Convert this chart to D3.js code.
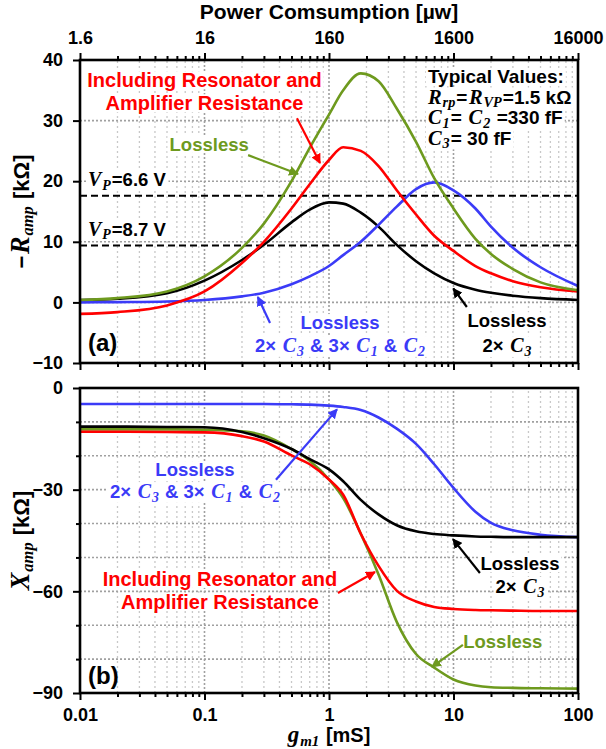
<!DOCTYPE html>
<html><head><meta charset="utf-8">
<script src="https://cdn.jsdelivr.net/npm/d3@7"></script>
<style>
body{margin:0;background:#fff}
text{font-family:"Liberation Sans",Arial,sans-serif;font-weight:bold;fill:#000}
.m{font-family:"Liberation Serif","DejaVu Serif",serif;font-style:italic}
</style></head><body><div id="c"></div>
<script>
// gm1 sample points [mS]
const gm = [0.01, 0.02, 0.05, 0.1, 0.2, 0.3, 0.5, 0.7, 1, 1.3, 1.8, 2.5, 3.5, 5, 7, 10, 15, 20, 30, 50, 100]

// (a) -R_amp [kOhm]
const rGreen = [0.4, 0.7, 1.8, 4.3, 9.0, 13, 20, 25.5, 31, 35, 37.8, 36.5, 32, 26.5, 20.5, 15.5, 10.5, 8, 5.5, 3.3, 2.0]
const rRed   = [-1.9, -1.6, -0.5, 1.8, 6.5, 10, 15.5, 19.5, 23.5, 25.6, 25, 22.5, 18.5, 14.5, 11, 8.5, 6, 4.8, 3.5, 2.5, 1.8]
const rBlack = [0.4, 0.6, 1.5, 3.6, 7, 9.5, 13.2, 15.3, 16.5, 16.3, 14.8, 12.5, 9.5, 6.8, 4.8, 3.2, 2.1, 1.6, 1.1, 0.7, 0.4]
const rBlue  = [0.0, 0.05, 0.15, 0.4, 1.0, 1.6, 3.0, 4.3, 6.0, 7.8, 10, 12.8, 15.8, 18.7, 19.8, 18.5, 15.5, 12.5, 9, 5.8, 2.7]
const vpLines = [17.6, 9.4]

// (b) X_amp [kOhm]
const xGreen = [-12.2, -12.2, -12.2, -12.3, -12.8, -14, -18, -21.5, -27, -32.5, -43, -55, -69, -78.5, -82.5, -86, -87.8, -88.3, -88.5, -88.6, -88.7]
const xRed   = [-12.9, -12.9, -13, -13.1, -14.2, -15.8, -19.9, -22.5, -27, -31.5, -43, -52.5, -59.8, -63, -64.6, -65.2, -65.5, -65.6, -65.7, -65.8, -65.8]
const xBlack = [-11.4, -11.4, -11.5, -11.6, -13, -14.8, -18, -21, -24, -27.5, -33, -37.3, -40.5, -42.3, -43.1, -43.5, -43.8, -43.9, -44, -44, -44]
const xBlue  = [-4.7, -4.7, -4.7, -4.7, -4.7, -4.7, -4.8, -4.9, -5.2, -5.6, -6.5, -8.7, -12, -16.5, -22.5, -29.5, -36.5, -39.8, -42, -43.3, -44]

const gmTicks = [0.01, 0.1, 1, 10, 100]
const powerTicks = [1.6, 16, 160, 1600, 16000]
const raTicks = [-10, 0, 10, 20, 30, 40]
const xaTicks = [-90, -60, -30, 0]

const col = {green: "#6e9a1e", red: "#ff0000", black: "#000", blue: "#3b3bf7"}

let W = 606, H = 749, L = 80, R = 578
let svg = d3.select("#c").append("svg").attr("width", W).attr("height", H)
let x = d3.scaleLog().domain([0.01, 100]).range([L, R])
let xp = d3.scaleLog().domain([1.6, 16000]).range([L, R])
let ya = d3.scaleLinear().domain([-10, 40]).range([363, 60])
let yb = d3.scaleLinear().domain([-90, 0]).range([693, 388])

let minorVals = []
gmTicks.slice(0, -1).forEach(d => { for (let k = 2; k < 10; k++) minorVals.push(d * k) })

let defs = svg.append("defs")
Object.entries(col).forEach(([k, c]) => {
    defs.append("marker").attr("id", "ah-" + k)
        .attr("viewBox", "0 0 10 10").attr("refX", 9).attr("refY", 5)
        .attr("markerWidth", 4.5).attr("markerHeight", 4.5).attr("orient", "auto")
        .append("path").attr("d", "M0,0L10,5L0,10Z").attr("fill", c)
})

// gridlines
let grid = (y, hvals) => {
    let g = svg.append("g")
    minorVals.forEach(v => {
        g.append("line").attr("x1", x(v)).attr("x2", x(v))
            .attr("y1", y.range()[0]).attr("y2", y.range()[1])
            .attr("stroke", "#c8c8c8").attr("stroke-width", 1.3).attr("stroke-dasharray", "2,3")
    })
    gmTicks.slice(1, -1).forEach(v => {
        g.append("line").attr("x1", x(v)).attr("x2", x(v))
            .attr("y1", y.range()[0]).attr("y2", y.range()[1])
            .attr("stroke", "#a0a0a0").attr("stroke-width", 1.6).attr("stroke-dasharray", "2,2")
    })
    hvals.forEach(v => {
        g.append("line").attr("x1", L).attr("x2", R).attr("y1", y(v)).attr("y2", y(v))
            .attr("stroke", "#a0a0a0").attr("stroke-width", 1.6).attr("stroke-dasharray", "2,2")
    })
}
grid(ya, [0, 10, 20, 30])
grid(yb, d3.range(-80, 0, 10))

// rich text with math italics and subscripts
let rich = (g, px, py, parts, size, fill, anchor, mf) => {
    let t = g.append("text").attr("x", px).attr("y", py)
        .attr("font-size", size).attr("text-anchor", anchor || "start").style("fill", fill || "#000")
    let sub = false
    parts.forEach(([k, s], i) => {
        let ts = t.append("tspan").text(s)
        if (k !== "n") ts.attr("class", "m")
        if (k === "i") {
            ts.attr("font-size", size * (mf || 1.08))
            if (i > 0) ts.attr("dx", 1.5)
        }
        if (k === "s") {
            ts.attr("font-size", size * 0.75).attr("dx", 1)
            if (!sub) ts.attr("dy", size * 0.2)
            sub = true
        } else if (sub) {
            ts.attr("dy", -size * 0.2).attr("dx", 1)
            sub = false
        }
    })
    return t
}
let boxed = (g, t) => {
    let b = t.node().getBBox()
    g.insert("rect", "text").attr("x", b.x - 2).attr("y", b.y + 2).attr("width", b.width + 4)
        .attr("height", b.height - 4).attr("fill", "#fff")
}

let notes = svg.append("g")
let note = (y, pos, lines, fill, anchor, lh, size) => {
    let g = notes.append("g")
    lines.forEach((p, i) => {
        let t = rich(g, x(pos[0]), y(pos[1]) + i * lh, p, size || 18.5, fill, anchor)
        boxed(g, t)
    })
}

// dashed V_P levels
vpLines.forEach(v => {
    svg.append("line").attr("x1", L).attr("x2", R).attr("y1", ya(v)).attr("y2", ya(v))
        .attr("stroke", "#000").attr("stroke-width", 2).attr("stroke-dasharray", "7,4")
})

// annotations panel (a)
note(ya, [0.1, 35.5], [[["n", "Including Resonator and"]], [["n", "Amplifier Resistance"]]], col.red, "middle", 23, 20)
note(ya, [6.23, 36.2], [[["n", "Typical Values:"]],
    [["i", "R"], ["s", "rp"], ["n", "="], ["i", "R"], ["s", "VP"], ["n", "=1.5 kΩ"]],
    [["i", "C"], ["s", "1"], ["n", "= "], ["i", "C"], ["s", "2"], ["n", " =330 fF"]],
    [["i", "C"], ["s", "3"], ["n", "= 30 fF"]]], "#000", "start", 20.5, 19)
note(ya, [0.109, 25], [[["n", "Lossless"]]], col.green, "middle", 23)
note(ya, [0.0116, 19.2], [[["i", "V"], ["s", "P"], ["n", "=6.6 V"]]], "#000", "start", 23)
note(ya, [0.0116, 11.0], [[["i", "V"], ["s", "P"], ["n", "=8.7 V"]]], "#000", "start", 23)
note(ya, [1.226, -4.4], [[["n", "Lossless"]],
    [["n", "2× "], ["i", "C"], ["s", "3"], ["n", " & 3× "], ["i", "C"], ["s", "1"], ["n", " & "], ["i", "C"], ["s", "2"]]], col.blue, "middle", 23)
note(ya, [26.9, -4.1], [[["n", "Lossless"]], [["n", "2× "], ["i", "C"], ["s", "3"]]], "#000", "middle", 25)

// annotations panel (b)
note(yb, [0.0838, -26], [[["n", "Lossless"]],
    [["n", "2× "], ["i", "C"], ["s", "3"], ["n", " & 3× "], ["i", "C"], ["s", "1"], ["n", " & "], ["i", "C"], ["s", "2"]]], col.blue, "middle", 22)
note(yb, [0.133, -58.4], [[["n", "Including Resonator and"]], [["n", "Amplifier Resistance"]]], col.red, "middle", 23, 20)
note(yb, [34.2, -53.7], [[["n", "Lossless"]], [["n", "2× "], ["i", "C"], ["s", "3"]]], "#000", "middle", 23)
note(yb, [24.9, -76.7], [[["n", "Lossless"]]], col.green, "middle", 23)

notes.append("text").attr("x", x(0.0116)).attr("y", ya(-8.0)).attr("font-size", 24).text("(a)")
notes.append("text").attr("x", x(0.0116)).attr("y", yb(-87.4)).attr("font-size", 24).text("(b)")

// curves
let drawCurve = (y, vals, c) => {
    let line = d3.line().x(d => x(d[0])).y(d => y(d[1])).curve(d3.curveMonotoneX)
    svg.append("path").datum(d3.zip(gm, vals)).attr("d", line)
        .attr("fill", "none").attr("stroke", c).attr("stroke-width", 2.6)
}
drawCurve(ya, rBlack, col.black)
drawCurve(ya, rBlue, col.blue)
drawCurve(ya, rRed, col.red)
drawCurve(ya, rGreen, col.green)
drawCurve(yb, xBlue, col.blue)
drawCurve(yb, xGreen, col.green)
drawCurve(yb, xBlack, col.black)
drawCurve(yb, xRed, col.red)

// arrows [from, to] in data coordinates
let arrow = (y, from, to, k) => {
    svg.append("line").attr("x1", x(from[0])).attr("y1", y(from[1]))
        .attr("x2", x(to[0])).attr("y2", y(to[1]))
        .attr("stroke", col[k]).attr("stroke-width", 2.2).attr("marker-end", "url(#ah-" + k + ")")
}
arrow(ya, [0.553, 30.4], [0.847, 23.0], "red")
arrow(ya, [0.224, 24.3], [0.564, 21.2], "green")
arrow(ya, [0.336, -3.4], [0.268, 0.9], "blue")
arrow(ya, [12.8, -0.76], [9.96, 2.3], "black")
arrow(yb, [0.375, -27.1], [1.16, -6.3], "blue")
arrow(yb, [1.18, -60.5], [2.34, -54.3], "red")
arrow(yb, [16.3, -54.6], [9.9, -44.6], "black")
arrow(yb, [11.9, -75.8], [6.7, -82.3], "green")

// axes
let axisStyle = g => {
    g.select(".domain").remove()
    g.selectAll("line").attr("stroke", "#000").attr("stroke-width", 2)
    g.selectAll("text").attr("font-size", 18).style("font-family", null)
}
let minorAxis = (axis, scale, vals, ty) => {
    svg.append("g").attr("transform", ty)
        .call(axis(scale).tickValues(vals).tickSize(4).tickFormat(""))
        .call(axisStyle)
}
let fmt = d => String(d)

// top power axis
minorAxis(d3.axisTop, xp, minorVals.map(v => v * 160), "translate(0,60)")
svg.append("g").attr("transform", "translate(0,60)")
    .call(d3.axisTop(xp).tickValues(powerTicks).tickSize(7).tickPadding(9).tickFormat(fmt))
    .call(axisStyle)
// panel (a) bottom
minorAxis(d3.axisBottom, x, minorVals, "translate(0,363)")
svg.append("g").attr("transform", "translate(0,363)")
    .call(d3.axisBottom(x).tickValues(gmTicks).tickSize(7).tickFormat(""))
    .call(axisStyle)
// panel (b) bottom
minorAxis(d3.axisBottom, x, minorVals, "translate(0,693)")
svg.append("g").attr("transform", "translate(0,693)")
    .call(d3.axisBottom(x).tickValues(gmTicks).tickSize(7).tickPadding(8).tickFormat(fmt))
    .call(axisStyle)
// left axes
svg.append("g").attr("transform", `translate(${L},0)`)
    .call(d3.axisLeft(ya).tickValues(raTicks).tickSize(7).tickPadding(10))
    .call(axisStyle)
minorAxis(d3.axisLeft, yb, d3.range(-80, 0, 10).filter(v => v % 30), `translate(${L},0)`)
svg.append("g").attr("transform", `translate(${L},0)`)
    .call(d3.axisLeft(yb).tickValues(xaTicks).tickSize(7).tickPadding(10))
    .call(axisStyle)

// frames
;[ya, yb].forEach(y => {
    svg.append("rect").attr("x", L).attr("y", y.range()[1]).attr("width", R - L)
        .attr("height", y.range()[0] - y.range()[1])
        .attr("fill", "none").attr("stroke", "#000").attr("stroke-width", 2.6)
})

// axis titles
svg.append("text").attr("x", (L + R) / 2).attr("y", 19).attr("text-anchor", "middle")
    .attr("font-size", 21).text("Power Comsumption [µw]")
rich(svg, (L + R) / 2, 742, [["i", "g"], ["s", "m1"], ["n", " [mS]"]], 20, "#000", "middle", 1.15)
rich(svg.append("g").attr("transform", `translate(29,${(60 + 363) / 2}) rotate(-90)`), 0, 0,
    [["n", "−"], ["i", "R"], ["s", "amp"], ["n", " [kΩ]"]], 22, "#000", "middle", 1.2)
rich(svg.append("g").attr("transform", `translate(29,${(388 + 693) / 2}) rotate(-90)`), 0, 0,
    [["i", "X"], ["s", "amp"], ["n", " [kΩ]"]], 22, "#000", "middle", 1.2)
</script></body></html>
